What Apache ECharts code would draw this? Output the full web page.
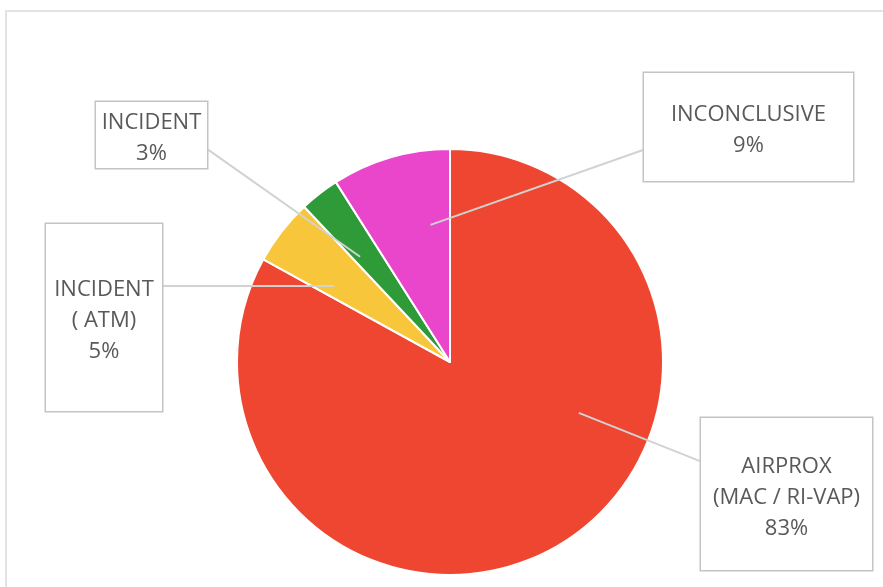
<!DOCTYPE html>
<html>
<head>
<meta charset="utf-8">
<script src="https://cdn.jsdelivr.net/npm/echarts@6/dist/echarts.min.js"></script>
<style>
  html, body { margin: 0; padding: 0; background: #fff; }
  #frame { position: absolute; left: 5px; top: 10px; width: 900px; height: 600px; border: 2px solid #e3e3e3; box-sizing: border-box; }
  #main { position: absolute; left: 0; top: 0; width: 883px; height: 587px; }
</style>
</head>
<body>
<div id="frame"></div>
<div id="main"></div>
<script>
// data
var categories = ['AIRPROX\n(MAC / RI-VAP)', 'INCIDENT\n( ATM)', 'INCIDENT', 'INCONCLUSIVE']
var shares = [83, 5, 3, 9]
var colors = ['#ee4631', '#f8c63a', '#2e9a38', '#ea46cb']

// callout boxes (left, top, width, height, padTop)
var boxes = [
  { x: 700, y: 418, w: 173, h: 154, pad: 33 },
  { x: 45, y: 224, w: 118, h: 189, pad: 50 },
  { x: 95, y: 102, w: 113, h: 68, pad: 5 },
  { x: 643, y: 73, w: 211, h: 110, pad: 26 }
]
var cx = 450
var cy = 362
var R = 213

var total = shares.reduce(function (a, b) { return a + b }, 0)

// tip of the callout: inside slice i, turned towards its box
// (angles clockwise from 12 o'clock, in degrees)
function sliceTip(i, f) {
  var before = 0
  for (var k = 0; k < i; k++) before += shares[k]
  var a0 = 360 * before / total
  var a1 = 360 * (before + shares[i]) / total
  var b = boxes[i]
  var dx = b.x + b.w / 2 - cx
  var dy = b.y + b.h / 2 - cy
  var toBox = Math.atan2(dx, -dy) * 180 / Math.PI
  // bring into the slice's turn
  while (toBox < a0) toBox += 360
  while (toBox > a0 + 360) toBox -= 360
  var m = (a1 - a0) * 0.25
  var a = Math.min(Math.max(toBox, a0 + m), a1 - m)
  if (toBox > a1 && toBox - a1 > (a0 + 360) - toBox) a = a0 + m
  var rad = a * Math.PI / 180
  return [cx + Math.sin(rad) * R * f, cy - Math.cos(rad) * R * f]
}

var myChart = echarts.init(document.getElementById('main'))

var sliceData = categories.map(function (name, i) {
  return { name: name, value: shares[i], itemStyle: { color: colors[i] } }
})

// same values again, only for the callouts so they sit above the slices
var calloutData = categories.map(function (name, i) {
  var b = boxes[i]
  return {
    name: name,
    value: shares[i],
    label: {
      width: b.w - 2,
      height: b.h - 2 - b.pad,
      padding: [b.pad, 0, 0, 0]
    }
  }
})

var option = {
  animation: false,
  series: [
    {
      type: 'pie',
      z: 2,
      center: [cx, cy],
      radius: R,
      startAngle: 90,
      clockwise: true,
      silent: true,
      data: sliceData,
      itemStyle: { borderColor: '#fff', borderWidth: 2 },
      label: { show: false },
      labelLine: { show: false }
    },
    {
      type: 'pie',
      z: 5,
      center: [cx, cy],
      radius: R,
      startAngle: 90,
      clockwise: true,
      silent: true,
      data: calloutData,
      itemStyle: { color: 'rgba(0,0,0,0)', borderWidth: 0 },
      label: {
        show: true,
        position: 'outside',
        formatter: '{b}\n{c}%',
        fontFamily: 'Open Sans',
        fontSize: 22,
        lineHeight: 31,
        color: '#595959',
        align: 'center',
        backgroundColor: '#fff',
        borderColor: '#c4c4c4',
        borderWidth: 1.5
      },
      labelLine: {
        show: true,
        lineStyle: { color: '#d2d2d2', width: 2 }
      },
      labelLayout: function (params) {
        var i = params.dataIndex
        var b = boxes[i]
        var tip = sliceTip(i, 0.65)
        var ex = Math.min(Math.max(tip[0], b.x), b.x + b.w)
        var ey = Math.min(Math.max(tip[1], b.y + b.h * 0.28), b.y + b.h * 0.7)
        return {
          x: b.x + b.w / 2,
          y: b.y,
          align: 'center',
          verticalAlign: 'top',
          labelLinePoints: [tip, [ex, ey]]
        }
      }
    }
  ]
}

myChart.setOption(option)
</script>
</body>
</html>
